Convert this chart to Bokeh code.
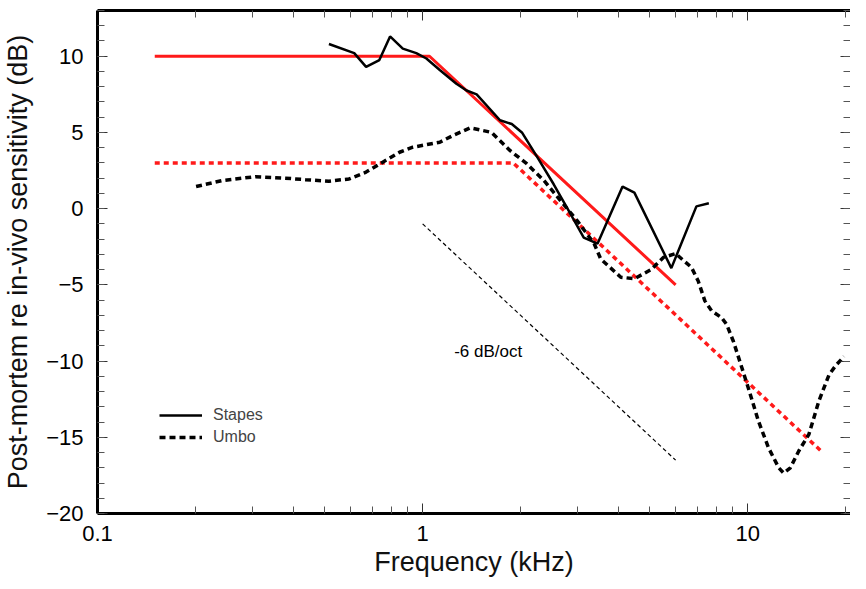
from bokeh.plotting import figure
from bokeh.models import (Range1d, FixedTicker, SingleIntervalTicker, LinearAxis, LogAxis,
                          CustomJSTickFormatter, Legend, LegendItem, Label)
from bokeh.embed import file_html
from bokeh.resources import INLINE

# ---- data ----
stapes_freq = [0.515, 0.616, 0.67, 0.736, 0.794, 0.869, 0.956, 1.027, 1.129, 1.27, 1.365, 1.466,
               1.73, 1.88, 2.02, 2.25, 2.53, 2.85, 3.13, 3.45, 4.12, 4.48, 5.82, 6.95, 7.59]
stapes_db = [10.8, 10.2, 9.3, 9.75, 11.3, 10.5, 10.2, 9.85, 9.1, 8.2, 7.75, 7.5,
             5.8, 5.55, 5.0, 3.4, 1.6, -0.35, -1.9, -2.3, 1.45, 1.05, -3.9, 0.15, 0.35]

umbo_freq = [0.201, 0.241, 0.306, 0.378, 0.436, 0.515, 0.594, 0.67, 0.754, 0.849, 0.933, 1.129,
             1.24, 1.40, 1.63, 1.86, 2.09, 2.36, 2.65, 2.99, 3.37, 3.53, 4.07, 4.48, 5.04, 5.5,
             6.0, 6.71, 7.04, 7.38, 7.74, 8.31, 8.61, 9.03, 9.58, 10.05, 10.79, 11.59, 12.45,
             12.89, 13.52, 14.35, 15.42, 16.56, 17.78, 18.63, 19.77]
umbo_db = [1.45, 1.84, 2.1, 2.0, 1.9, 1.8, 1.95, 2.4, 3.05, 3.7, 4.03, 4.36,
           4.8, 5.3, 5.0, 3.8, 2.95, 1.85, 0.55, -0.8, -2.3, -3.3, -4.5, -4.6, -4.0, -3.2,
           -2.95, -3.85, -4.75, -6.05, -6.7, -7.15, -7.6, -8.7, -10.4, -11.8, -13.95, -15.7, -17.0,
           -17.35, -17.0, -15.9, -14.8, -12.6, -10.9, -10.3, -9.7]

stapes_model_freq = [0.15, 1.05, 6.0]
stapes_model_db = [10.0, 10.0, -5.0]
umbo_model_freq = [0.15, 1.9, 17.0]
umbo_model_db = [3.0, 3.0, -16.0]

slope_freq = [1.0, 6.0]
slope_db = [-1.0, -16.5]

x_major_ticks = [0.1, 1, 10]
x_minor_ticks = [0.2, 0.3, 0.4, 0.5, 0.6, 0.7, 0.8, 0.9, 2, 3, 4, 5, 6, 7, 8, 9, 20]

FONT = "Liberation Sans"

p = figure(width=850, height=580, x_axis_type="log",
           x_range=Range1d(0.1, 20.7), y_range=Range1d(-20, 13.0),
           output_backend="svg", toolbar_location=None,
           min_border_left=95, min_border_top=10, min_border_bottom=67, min_border_right=0)
p.grid.visible = False
p.outline_line_color = None
p.background_fill_color = "white"

xt = FixedTicker(ticks=x_major_ticks, minor_ticks=x_minor_ticks)
yt = SingleIntervalTicker(interval=5, num_minor_ticks=5)


def style_axis(ax, labels=True):
    ax.axis_line_width = 3
    ax.axis_line_color = "black"
    ax.major_tick_in = 10
    ax.major_tick_out = 0
    ax.minor_tick_in = 7
    ax.minor_tick_out = 0
    ax.major_tick_line_color = "#333333"
    ax.minor_tick_line_color = "#555555"
    ax.major_tick_line_width = 1
    ax.minor_tick_line_width = 1
    if not labels:
        ax.major_label_text_font_size = "1px"
        ax.major_label_text_alpha = 0
        ax.major_label_standoff = 0


xa = p.xaxis[0]
xa.ticker = xt
xa.formatter = CustomJSTickFormatter(code="return tick.toString();")
style_axis(xa)
xa.major_label_text_font = FONT
xa.major_label_text_font_size = "22px"
xa.major_label_text_color = "black"
xa.major_label_standoff = 12
xa.axis_label = "Frequency (kHz)"
xa.axis_label_text_font = FONT
xa.axis_label_text_font_size = "27px"
xa.axis_label_text_font_style = "normal"
xa.axis_label_text_color = "#111111"
xa.axis_label_standoff = 3

ya = p.yaxis[0]
ya.ticker = yt
style_axis(ya)
ya.major_label_text_font = FONT
ya.major_label_text_font_size = "22px"
ya.major_label_text_color = "black"
ya.major_label_standoff = 14
ya.axis_label = "Post-mortem re in-vivo sensitivity (dB)"
ya.axis_label_text_font = FONT
ya.axis_label_text_font_size = "27px"
ya.axis_label_text_font_style = "normal"
ya.axis_label_text_color = "#111111"
ya.axis_label_standoff = 10

top = LogAxis(ticker=xt)
style_axis(top, labels=False)
p.add_layout(top, "above")

right = LinearAxis(ticker=yt)
style_axis(right, labels=False)
right.axis_line_alpha = 0
p.add_layout(right, "right")

# model lines
p.line(stapes_model_freq, stapes_model_db, line_color="#ff1a1a", line_width=3)
p.line(umbo_model_freq, umbo_model_db, line_color="#ff1a1a", line_width=3.5, line_dash="5 4")
# slope reference
p.line(slope_freq, slope_db, line_color="black", line_width=1.2, line_dash="4 3")
# measurements
r_st = p.line(stapes_freq, stapes_db, line_color="black", line_width=2.5)
r_um = p.line(umbo_freq, umbo_db, line_color="black", line_width=3.5, line_dash="6 4")

p.add_layout(Label(x=1.25, y=-9.34, text="-6 dB/oct", text_font=FONT, text_font_size="17px",
                   text_baseline="middle", text_align="left", text_color="black"))

legend = Legend(items=[LegendItem(label="Stapes", renderers=[r_st]),
                       LegendItem(label="Umbo", renderers=[r_um])],
                location=(62, 66), glyph_width=43, glyph_height=20, label_height=20,
                label_standoff=11, spacing=2, padding=0, margin=0,
                label_text_font=FONT, label_text_font_size="16px",
                border_line_alpha=0, background_fill_alpha=0)
p.add_layout(legend, "center")

open("out.html", "w").write(file_html(p, INLINE))
